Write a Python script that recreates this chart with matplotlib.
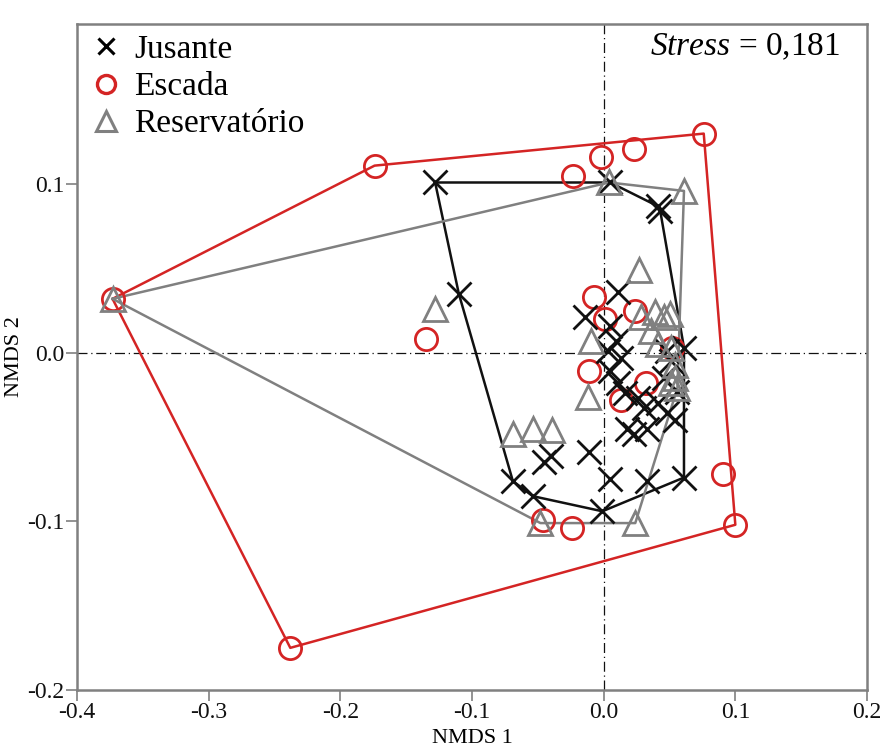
import matplotlib
matplotlib.use("Agg")
import matplotlib.pyplot as plt
from matplotlib.lines import Line2D

plt.rcParams['font.family'] = ['Liberation Serif', 'DejaVu Serif']
plt.rcParams['mathtext.fontset'] = 'custom'
plt.rcParams['mathtext.rm'] = 'Liberation Serif'
plt.rcParams['mathtext.it'] = 'Liberation Serif:italic'
plt.rcParams['axes.unicode_minus'] = False

# NMDS scores
jus_x = [-0.128, 0.005, 0.043, 0.041, -0.110, -0.069, -0.054, -0.045, -0.040, -0.011,
         0.005, 0.033, 0.061, -0.001, 0.011, -0.014, 0.005, 0.009, 0.003, 0.013,
         0.005, 0.011, 0.016, 0.026, 0.048, 0.061, 0.051, 0.046, 0.056, 0.041,
         0.023, 0.018, 0.033, 0.048, 0.054, 0.031]
jus_y = [0.101, 0.101, 0.084, 0.087, 0.035, -0.076, -0.085, -0.065, -0.061, -0.059,
         -0.075, -0.076, -0.074, -0.094, 0.036, 0.021, 0.016, 0.007, 0.001, -0.003,
         -0.011, -0.018, -0.024, -0.027, 0.001, 0.003, -0.005, -0.015, -0.023, -0.030,
         -0.048, -0.045, -0.045, -0.036, -0.040, -0.033]

esc_x = [-0.373, -0.174, 0.076, 0.100, 0.091, -0.238, -0.023, -0.002, 0.023, -0.135,
         -0.007, 0.001, 0.024, -0.011, 0.013, 0.032, 0.052, -0.046, -0.024]
esc_y = [0.032, 0.111, 0.130, -0.102, -0.072, -0.175, 0.105, 0.116, 0.121, 0.008,
         0.033, 0.020, 0.025, -0.011, -0.028, -0.018, 0.003, -0.099, -0.104]

res_x = [-0.373, 0.004, 0.061, 0.027, -0.128, -0.010, -0.012, -0.069, -0.054, -0.039,
         -0.048, 0.024, 0.028, 0.039, 0.046, 0.050, 0.036, 0.041, 0.051, 0.054,
         0.054, 0.056, 0.051]
res_y = [0.032, 0.101, 0.096, 0.049, 0.026, 0.007, -0.026, -0.048, -0.045, -0.046,
         -0.101, -0.101, 0.021, 0.024, 0.021, 0.023, 0.013, 0.005, 0.003, -0.007,
         -0.015, -0.021, -0.018]

labels = ['Jusante', 'Escada', 'Reservatório']
stress = '0,181'

RED = '#d42424'
GRAY = '#808080'
BLACK = '#111111'


def hull(xs, ys):
    # monotone chain convex hull, returns closed polygon
    pts = sorted(set(zip(xs, ys)))

    def cross(o, a, b):
        return (a[0] - o[0]) * (b[1] - o[1]) - (a[1] - o[1]) * (b[0] - o[0])

    lower, upper = [], []
    for p in pts:
        while len(lower) >= 2 and cross(lower[-2], lower[-1], p) <= 0:
            lower.pop()
        lower.append(p)
    for p in reversed(pts):
        while len(upper) >= 2 and cross(upper[-2], upper[-1], p) <= 0:
            upper.pop()
        upper.append(p)
    poly = lower[:-1] + upper[:-1]
    poly.append(poly[0])
    return [p[0] for p in poly], [p[1] for p in poly]


fig = plt.figure(figsize=(8.85, 7.53), dpi=100)
ax = fig.add_axes([77 / 885, 1 - 690 / 753, 790 / 885, 666 / 753])

ax.axvline(0, color=BLACK, lw=0.9, ls=(0, (8, 3, 1, 3)), zorder=1)
ax.axhline(0, color=BLACK, lw=0.9, ls=(0, (8, 3, 1, 3)), zorder=1)

hx, hy = hull(esc_x, esc_y)
ax.plot(hx, hy, color=RED, lw=1.8, zorder=2)
hx, hy = hull(jus_x, jus_y)
ax.plot(hx, hy, color=BLACK, lw=1.8, zorder=2)
hx, hy = hull(res_x, res_y)
ax.plot(hx, hy, color=GRAY, lw=1.8, zorder=2)

ax.plot(esc_x, esc_y, 'o', ls='none', ms=16, mfc='none', mec=RED, mew=2.0, zorder=3)
ax.plot(jus_x, jus_y, 'x', ls='none', ms=17, mec=BLACK, mew=2.0, zorder=4)
ax.plot(res_x, res_y, '^', ls='none', ms=17, mfc='none', mec=GRAY, mew=2.0, zorder=5)

ax.set_xlim(-0.4, 0.2)
ax.set_ylim(-0.2, 0.195)
ax.set_xticks([-0.4, -0.3, -0.2, -0.1, 0.0, 0.1, 0.2])
ax.set_yticks([-0.2, -0.1, 0.0, 0.1])
ax.xaxis.set_major_formatter(matplotlib.ticker.FormatStrFormatter('%.1f'))
ax.yaxis.set_major_formatter(matplotlib.ticker.FormatStrFormatter('%.1f'))
ax.tick_params(direction='out', length=8, width=1.2, color=GRAY, labelsize=17,
               labelcolor=BLACK, pad=1)
for s in ax.spines.values():
    s.set_color(GRAY)
    s.set_linewidth(1.8)

ax.set_xlabel('NMDS 1', fontsize=16, labelpad=4)
ax.set_ylabel('NMDS 2', fontsize=16, labelpad=2)

handles = [
    Line2D([], [], marker='x', ls='none', ms=12, mec='black', mew=2.2),
    Line2D([], [], marker='o', ls='none', ms=13, mfc='none', mec=RED, mew=2.4),
    Line2D([], [], marker='^', ls='none', ms=15, mfc='none', mec=GRAY, mew=2.2),
]
ax.legend(handles, labels, loc='upper left', bbox_to_anchor=(0.011, 0.994),
          frameon=False, fontsize=24, handlelength=0.8, handletextpad=0.45,
          labelspacing=0.2, borderaxespad=0.1, borderpad=0.1)

ax.text(0.966, 0.966, r'$\mathit{Stress}$ = ' + stress, transform=ax.transAxes,
        ha='right', va='center', fontsize=24)

fig.savefig('out.png', dpi=100)
